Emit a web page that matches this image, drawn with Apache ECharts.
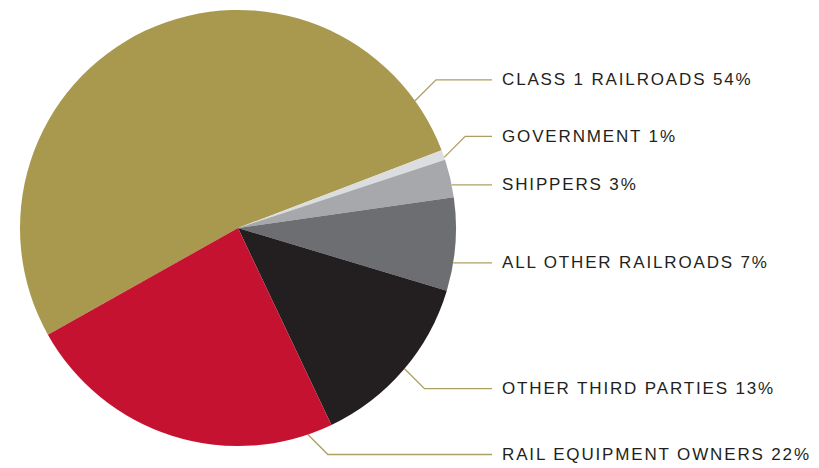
<!DOCTYPE html>
<html><head><meta charset="utf-8">
<script src="https://cdn.jsdelivr.net/npm/echarts@6/dist/echarts.min.js"></script>
<style>
html,body{margin:0;padding:0;background:#fff}
#c{width:819px;height:468px}
#c text{letter-spacing:1.85px}
</style>
</head><body><div id="c"></div>
<script>
// ---- data ----
const categories = ['CLASS 1 RAILROADS', 'GOVERNMENT', 'SHIPPERS', 'ALL OTHER RAILROADS', 'OTHER THIRD PARTIES', 'RAIL EQUIPMENT OWNERS'];
const labelPercents = ['54%', '1%', '3%', '7%', '13%', '22%'];
const shares = [52.3, 0.75, 2.8, 6.9, 13.3, 23.9];

// ---- style / layout ----
const colors = ['#a8994f', '#dcddde', '#a6a8ab', '#6d6e71', '#231f20', '#c41230'];
const CX = 238, CY = 228, R = 218;
const anchorAngles = [35.7, 18.9, 11.4, -9.2, -40.2, -71.3];
const elbowRise = [21, 21, 0, 0, -20, -20];
const LINE_END_X = 492, TEXT_X = 502;

const chart = echarts.init(document.getElementById('c'), null, {renderer: 'svg'});
chart.setOption({
  animation: false,
  backgroundColor: '#ffffff',
  series: [{
    type: 'pie',
    center: [CX, CY],
    radius: R,
    startAngle: 209.3,
    clockwise: true,
    avoidLabelOverlap: false,
    emphasis: {disabled: true},
    itemStyle: {borderWidth: 0},
    label: {
      show: true,
      position: 'outside',
      color: '#231f20',
      fontFamily: '"Liberation Sans", Arial, Helvetica, sans-serif',
      fontSize: 17,
      formatter: p => categories[p.dataIndex] + ' ' + labelPercents[p.dataIndex]
    },
    labelLine: {
      show: true,
      smooth: false,
      lineStyle: {color: '#ad9f60', width: 1.3}
    },
    labelLayout: function (params) {
      const i = params.dataIndex;
      const a = anchorAngles[i] * Math.PI / 180;
      const ax = CX + R * Math.cos(a);
      const ay = CY - R * Math.sin(a);
      const ly = ay - elbowRise[i];
      const ex = ax + Math.abs(elbowRise[i]);
      return {
        x: TEXT_X,
        y: ly,
        align: 'left',
        verticalAlign: 'middle',
        labelLinePoints: [[ax, ay], [ex, ly], [LINE_END_X, ly]]
      };
    },
    data: categories.map((n, i) => ({name: n, value: shares[i], itemStyle: {color: colors[i]}}))
  }]
});
</script></body></html>
